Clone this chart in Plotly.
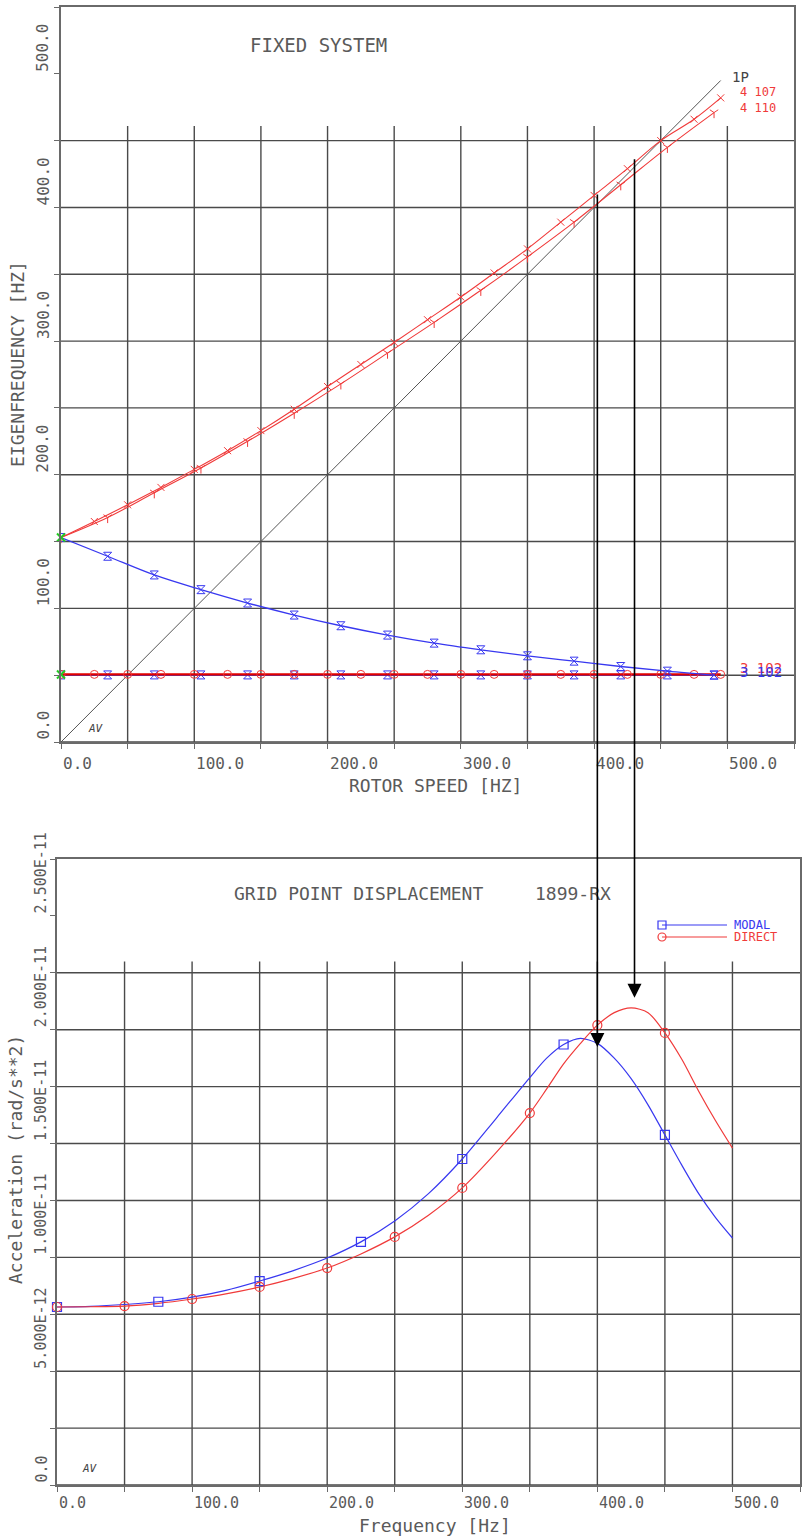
import plotly.graph_objects as go

FIG_W, FIG_H = 803, 1537

# ---------------- Campbell diagram (fixed system) ----------------
# rotor speed samples [Hz]
speed_a = [0, 25, 50, 75, 100, 125, 150, 175, 200, 225, 250, 275, 300, 325, 350,
           375, 400, 425, 450, 475, 495]
speed_b = [0, 35, 70, 105, 140, 175, 210, 245, 280, 315, 350, 385, 420, 455, 490]

# eigenfrequencies [Hz]
mode_4_107 = [153, 165, 177.5, 190.5, 204, 218, 233, 249, 266, 282.5, 299, 316, 333,
              351, 369, 389, 409, 429, 450, 466, 482]
mode_4_110 = [153, 168, 186.5, 205, 225, 246, 268, 291, 314, 338, 363, 389, 417, 445, 471]
mode_3_102 = [153, 139, 125, 114, 104, 95, 87, 80, 74, 69, 64.5, 60.5, 56.5, 53, 50]
mode_3_flat_red = [50.6, 50.6, 50.6, 50.6, 50.6, 50.6, 50.6, 50.6, 50.6, 50.6, 50.6,
                   50.6, 50.6, 50.6, 50.6, 50.6, 50.6, 50.6, 50.6, 50.6, 50.6]
mode_3_flat_blue = [50.2, 50.2, 50.2, 50.2, 50.2, 50.2, 50.2, 50.2, 50.2, 50.2, 50.2,
                    50.2, 50.2, 50.2, 50.2]
start_speed = [0, 0]
start_freq = [153, 50.5]
line_1p_speed = [0, 495]
line_1p_freq = [0, 495]

campbell_xticks = [0, 100, 200, 300, 400, 500]
campbell_yticks = [0, 100, 200, 300, 400, 500]
campbell_hgrid = [0, 50, 100, 150, 200, 250, 300, 350, 400, 450]
campbell_vgrid = [50, 100, 150, 200, 250, 300, 350, 400, 450, 500]

# ---------------- Frequency response ----------------
freq = [0, 25, 50, 75, 100, 125, 150, 175, 200, 225, 250, 275, 300, 325, 350, 362.5,
        375, 387.5, 400, 412.5, 425, 437.5, 450, 462.5, 475, 487.5, 500]
modal = [7.82e-12, 7.85e-12, 7.93e-12, 8.05e-12, 8.25e-12, 8.55e-12, 8.96e-12, 9.42e-12,
         9.97e-12, 1.068e-11, 1.16e-11, 1.28e-11, 1.432e-11, 1.61e-11, 1.79e-11,
         1.875e-11, 1.935e-11, 1.962e-11, 1.94e-11, 1.875e-11, 1.785e-11, 1.67e-11,
         1.538e-11, 1.405e-11, 1.28e-11, 1.175e-11, 1.085e-11]
direct = [7.82e-12, 7.83e-12, 7.86e-12, 7.98e-12, 8.17e-12, 8.4e-12, 8.7e-12, 9.08e-12,
          9.53e-12, 1.015e-11, 1.09e-11, 1.185e-11, 1.305e-11, 1.46e-11, 1.634e-11,
          1.74e-11, 1.85e-11, 1.94e-11, 2.02e-11, 2.075e-11, 2.096e-11, 2.075e-11,
          1.986e-11, 1.87e-11, 1.73e-11, 1.60e-11, 1.48e-11]

resp_xticks = [0, 100, 200, 300, 400, 500]
resp_yticks = [0, 5e-12, 1e-11, 1.5e-11, 2e-11, 2.5e-11]
resp_ytext = ["0.0", "5.000E-12", "1.000E-11", "1.500E-11", "2.000E-11", "2.500E-11"]
resp_hgrid = [0, 2.5e-12, 5e-12, 7.5e-12, 1e-11, 1.25e-11, 1.5e-11, 1.75e-11, 2e-11, 2.25e-11]
resp_vgrid = [50, 100, 150, 200, 250, 300, 350, 400, 450, 500]

# resonance arrows: (frequency, tip value, tail offset in px)
arrows = [(400, 1.924e-11, -854), (427.5, 2.14e-11, -840)]

RED = "#f03a3a"
BLUE = "#3838f0"
GRID = "#4a4a4a"
FRAME = "#6a6a6a"
TXT = "#5a5a5a"
MONO = "DejaVu Sans Mono"


def px(xp):
    return xp / FIG_W


def py(yp):
    return 1 - yp / FIG_H


fig = go.Figure()

# ---- Campbell traces ----
fig.add_trace(go.Scatter(x=line_1p_speed, y=line_1p_freq, mode="lines",
                         line=dict(color="#555555", width=1), xaxis="x", yaxis="y"))
fig.add_trace(go.Scatter(x=speed_b, y=mode_3_flat_blue, mode="lines+markers",
                         line=dict(color=BLUE, width=1.5),
                         marker=dict(symbol="hourglass-open", size=8, color=BLUE,
                                     line=dict(width=1, color=BLUE)),
                         xaxis="x", yaxis="y"))
fig.add_trace(go.Scatter(x=speed_a, y=mode_3_flat_red, mode="lines+markers",
                         line=dict(color="#e00000", width=2.4),
                         marker=dict(symbol="circle-open", size=8, color=RED,
                                     line=dict(width=1, color=RED)),
                         xaxis="x", yaxis="y"))
fig.add_trace(go.Scatter(x=speed_b, y=mode_3_102, mode="lines+markers",
                         line=dict(color=BLUE, width=1.3, shape="spline"),
                         marker=dict(symbol="hourglass-open", size=8, color=BLUE,
                                     line=dict(width=1, color=BLUE)),
                         xaxis="x", yaxis="y"))
fig.add_trace(go.Scatter(x=speed_a, y=mode_4_107, mode="lines+markers",
                         line=dict(color=RED, width=1.1, shape="spline"),
                         marker=dict(symbol="x-thin-open", size=7, color=RED,
                                     line=dict(width=1, color=RED)),
                         xaxis="x", yaxis="y"))
fig.add_trace(go.Scatter(x=speed_b, y=mode_4_110, mode="lines+markers",
                         line=dict(color=RED, width=1.1, shape="spline"),
                         marker=dict(symbol="y-down-open", size=7, color=RED,
                                     line=dict(width=1, color=RED)),
                         xaxis="x", yaxis="y"))
fig.add_trace(go.Scatter(x=start_speed, y=start_freq, mode="markers",
                         marker=dict(symbol="x-thin-open", size=8, color="#22cc22",
                                     line=dict(width=2, color="#22cc22")),
                         cliponaxis=False, xaxis="x", yaxis="y"))

# ---- Frequency response traces ----
fig.add_trace(go.Scatter(x=freq, y=modal, mode="lines",
                         line=dict(color=BLUE, width=1.2, shape="spline", smoothing=0.8),
                         xaxis="x2", yaxis="y2"))
fig.add_trace(go.Scatter(x=freq, y=direct, mode="lines",
                         line=dict(color=RED, width=1.2, shape="spline", smoothing=0.8),
                         xaxis="x2", yaxis="y2"))
modal_pts = [(f, v) for f, v in zip(freq, modal) if f % 75 == 0 and f < 500]
direct_pts = [(f, v) for f, v in zip(freq, direct) if f % 50 == 0 and f < 500]
fig.add_trace(go.Scatter(x=[p[0] for p in modal_pts], y=[p[1] for p in modal_pts],
                         mode="markers",
                         marker=dict(symbol="square-open", size=9, color=BLUE,
                                     line=dict(width=1.2, color=BLUE)),
                         cliponaxis=False, xaxis="x2", yaxis="y2"))
fig.add_trace(go.Scatter(x=[p[0] for p in direct_pts], y=[p[1] for p in direct_pts],
                         mode="markers",
                         marker=dict(symbol="circle-open", size=9, color=RED,
                                     line=dict(width=1.2, color=RED)),
                         cliponaxis=False, xaxis="x2", yaxis="y2"))

# ---- grid lines (partial extents, drawn as shapes) ----
shapes = []
for v in campbell_hgrid:
    shapes.append(dict(type="line", xref="x", yref="y", x0=0, x1=550, y0=v, y1=v,
                       line=dict(color=GRID, width=1.4), layer="below"))
for v in campbell_vgrid:
    shapes.append(dict(type="line", xref="x", yref="y", x0=v, x1=v, y0=0, y1=461,
                       line=dict(color=GRID, width=1.4), layer="below"))
for v in resp_hgrid:
    shapes.append(dict(type="line", xref="x2", yref="y2", x0=0, x1=550, y0=v, y1=v,
                       line=dict(color=GRID, width=1.4), layer="below"))
for v in resp_vgrid:
    shapes.append(dict(type="line", xref="x2", yref="y2", x0=v, x1=v, y0=0, y1=2.3e-11,
                       line=dict(color=GRID, width=1.4), layer="below"))

# ---- legend of the response plot ----
legend_rows = [("MODAL", BLUE, "rect", 925), ("DIRECT", RED, "circle", 937)]
annotations = []
for name, col, sym, yp in legend_rows:
    shapes.append(dict(type="line", xref="paper", yref="paper", x0=px(662), x1=px(727),
                       y0=py(yp), y1=py(yp), line=dict(color=col, width=1.2)))
    shapes.append(dict(type=sym, xref="paper", yref="paper", x0=px(658), x1=px(666),
                       y0=py(yp + 4), y1=py(yp - 4), line=dict(color=col, width=1.2)))
    annotations.append(dict(text=name, x=px(732), y=py(yp), xref="paper", yref="paper",
                            xanchor="left", yanchor="middle", showarrow=False,
                            font=dict(family=MONO, size=12, color=col)))

# ---- tick labels ----
for v in campbell_xticks:
    annotations.append(dict(text=f"{v:.1f}", x=v, y=py(763), xref="x", yref="paper",
                            xanchor="left", yanchor="middle", showarrow=False,
                            font=dict(family=MONO, size=16, color=TXT)))
for v in campbell_yticks:
    annotations.append(dict(text=f"{v:.1f}", x=px(43), y=v, xref="paper", yref="y",
                            xanchor="center", yanchor="bottom", textangle=-90,
                            showarrow=False, font=dict(family=MONO, size=16, color=TXT)))
for v in resp_xticks:
    annotations.append(dict(text=f"{v:.1f}", x=v, y=py(1503), xref="x2", yref="paper",
                            xanchor="left", yanchor="middle", showarrow=False,
                            font=dict(family=MONO, size=15, color=TXT)))
for v, t in zip(resp_yticks, resp_ytext):
    annotations.append(dict(text=t, x=px(41), y=v, xref="paper", yref="y2",
                            xanchor="center", yanchor="bottom", textangle=-90,
                            showarrow=False, font=dict(family=MONO, size=15, color=TXT)))


# ---- titles and labels ----
def label(text, xp, yp, size, color=TXT, xanchor="center", angle=0, shadow=None):
    font = dict(family=MONO, size=size, color=color)
    if shadow:
        font["shadow"] = shadow
    annotations.append(dict(text=text, x=px(xp), y=py(yp), xref="paper", yref="paper",
                            xanchor=xanchor, yanchor="middle", textangle=angle,
                            showarrow=False, font=font))


label("FIXED SYSTEM", 318, 45, 19)
label("ROTOR SPEED [HZ]", 436, 785, 18)
label("EIGENFREQUENCY [HZ]", 17, 364, 18, angle=-90)
label("<i>AV</i>", 96, 728, 11, color="#444444")
label("1P", 730, 77, 14, color="#444444", xanchor="left")
label("4 107<br>4 110", 738, 99.5, 12, color=RED, xanchor="left")
# two mode labels printed over each other (blue on red)
label("3 102", 738, 672, 14, color=BLUE, xanchor="left", shadow="0px -4px 0px #f03a3a")

label("GRID POINT DISPLACEMENT", 232, 894, 18, xanchor="left")
label("1899-RX", 533, 894, 18, xanchor="left")
label("Frequency [Hz]", 435, 1525, 18)
label("Acceleration (rad/s**2)", 15, 1160, 18, angle=-90)
label("<i>AV</i>", 90, 1468, 11, color="#444444")

# ---- resonance arrows ----
for f, tip, tail in arrows:
    annotations.append(dict(text="", x=f, y=tip, xref="x2", yref="y2", ax=0, ay=tail,
                            showarrow=True, arrowhead=2, arrowsize=1.75, arrowwidth=1.6,
                            arrowcolor="black"))

axis_common = dict(showgrid=False, zeroline=False, showline=True, mirror=True,
                   linecolor=FRAME, linewidth=1.5, ticks="outside", ticklen=5,
                   tickcolor=FRAME, tickwidth=1.2, showticklabels=False, tick0=0)

fig.update_layout(
    width=FIG_W, height=FIG_H, autosize=False,
    margin=dict(l=0, r=0, t=0, b=0),
    paper_bgcolor="white", plot_bgcolor="white", showlegend=False,
    xaxis=dict(domain=[px(61), px(794)], range=[0, 550], anchor="y", dtick=50, **axis_common),
    yaxis=dict(domain=[py(742), py(7)], range=[0, 550], anchor="x", dtick=50, **axis_common),
    xaxis2=dict(domain=[px(57), px(800)], range=[0, 550], anchor="y2", dtick=50, **axis_common),
    yaxis2=dict(domain=[py(1485), py(859)], range=[0, 2.75e-11], anchor="x2", dtick=2.5e-12,
                **axis_common),
    shapes=shapes,
    annotations=annotations,
)

fig.write_html("out.html")
